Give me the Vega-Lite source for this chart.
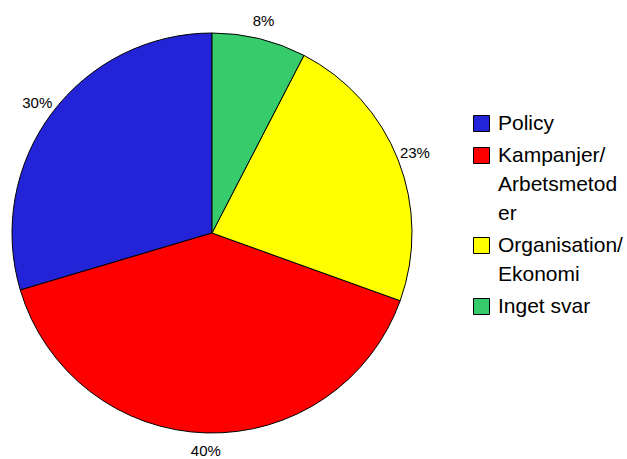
{
  "$schema": "https://vega.github.io/schema/vega-lite/v6.json",
  "width": 424,
  "height": 452,
  "padding": {"left": 0, "top": 7, "right": 0, "bottom": 0},
  "background": "white",
  "config": {"view": {"stroke": null}, "font": "Liberation Sans"},
  "data": {
    "values": [
      {"kategori": "Policy", "andel": 29.6, "nr": 1, "etikett": "30%"},
      {"kategori": "Kampanjer/Arbetsmetoder", "andel": 39.9, "nr": 2, "etikett": "40%"},
      {"kategori": "Organisation/Ekonomi", "andel": 22.9, "nr": 3, "etikett": "23%"},
      {"kategori": "Inget svar", "andel": 7.6, "nr": 4, "etikett": "8%"}
    ]
  },
  "encoding": {
    "theta": {"field": "andel", "type": "quantitative", "stack": true},
    "order": {"field": "nr", "type": "quantitative", "sort": "descending"}
  },
  "layer": [
    {
      "mark": {"type": "arc", "outerRadius": 200, "stroke": "black", "strokeWidth": 1},
      "encoding": {
        "color": {
          "field": "kategori",
          "type": "nominal",
          "scale": {
            "domain": ["Policy", "Kampanjer/Arbetsmetoder", "Organisation/Ekonomi", "Inget svar"],
            "range": ["#2323D8", "#FF0000", "#FFFF00", "#36CC6B"]
          },
          "legend": {
            "title": null,
            "orient": "none",
            "legendX": 471,
            "legendY": 106,
            "symbolType": "square",
            "symbolSize": 256,
            "symbolStrokeColor": "black",
            "symbolStrokeWidth": 1,
            "symbolOpacity": 1,
            "labelFont": "Liberation Sans",
            "labelFontSize": 21,
            "labelColor": "black",
            "labelOffset": 6,
            "labelLimit": 200,
            "rowPadding": 10,
            "padding": 0,
            "labelExpr": "datum.label == 'Kampanjer/Arbetsmetoder' ? ['Kampanjer/', 'Arbetsmetod', 'er'] : datum.label == 'Organisation/Ekonomi' ? ['Organisation/', 'Ekonomi'] : datum.label",
            "encode": {"labels": {"update": {"lineHeight": {"value": 29}}}}
          }
        }
      }
    },
    {
      "mark": {"type": "text", "radius": 218, "fontSize": 15, "font": "Liberation Sans", "color": "black"},
      "encoding": {"text": {"field": "etikett", "type": "nominal"}}
    }
  ]
}
